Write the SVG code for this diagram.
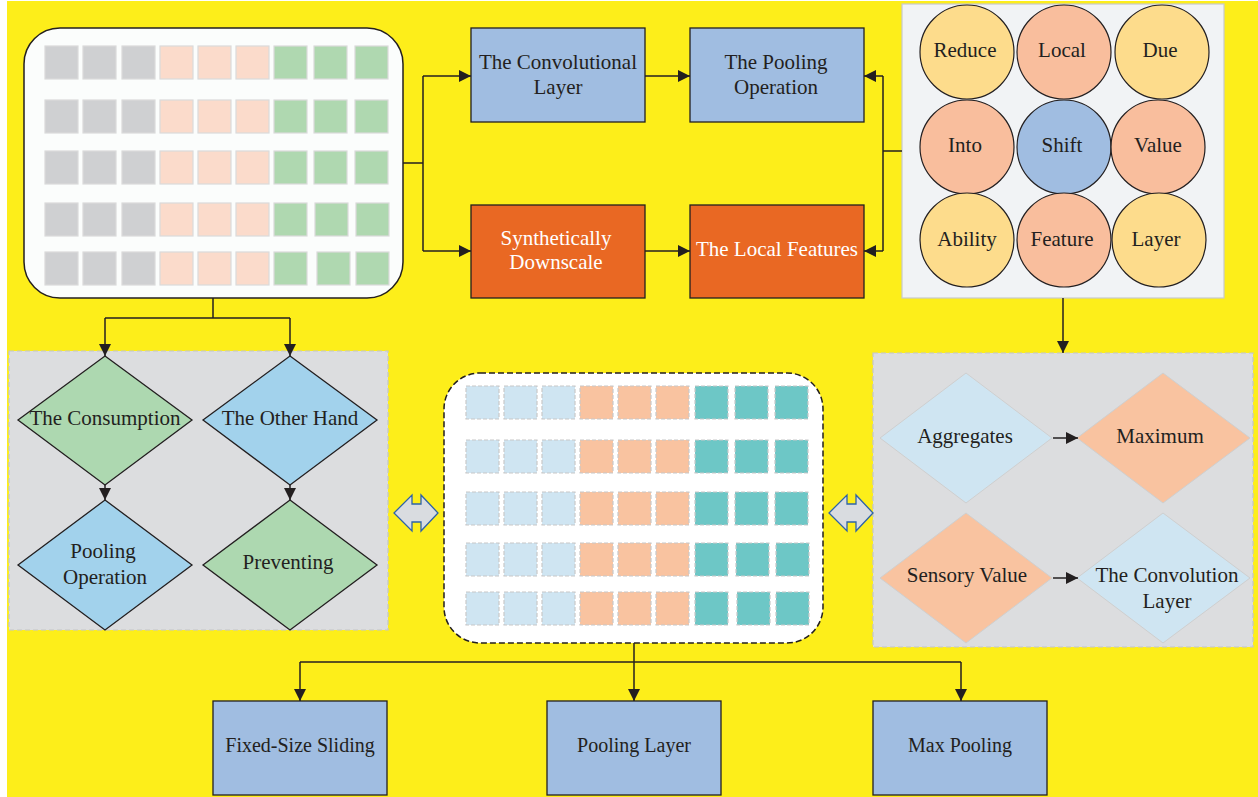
<svg xmlns="http://www.w3.org/2000/svg" width="1258" height="797" viewBox="0 0 1258 797">
<defs>
<style>
.t{font-family:"Liberation Serif","Times New Roman",serif;font-size:21px;fill:#231F20;text-anchor:middle}
.tw{fill:#FFFFFF}
.tb{font-size:20px}
.box{stroke:#231F20;stroke-width:1.3}
.blue{fill:#A0BDE1}
.orng{fill:#E96823}
.c{stroke:#231F20;stroke-width:1.2}
.cy{fill:#FDDC8C}.cs{fill:#F9BE9D}.cb{fill:#A0BDE1}
.g{fill:#CFD0D2;stroke:#DADADA;stroke-width:1.2}
.p{fill:#FBDBCB;stroke:#DADADA;stroke-width:1.2}
.gr{fill:#AFD8B0;stroke:#DADADA;stroke-width:1.2}
.lb{fill:#CFE5F2;stroke:#C8C8C8;stroke-width:1.2;stroke-dasharray:4 2}
.sa{fill:#F9C3A0;stroke:#C8C8C8;stroke-width:1.2;stroke-dasharray:4 2}
.te{fill:#6DC7C6;stroke:#C8C8C8;stroke-width:1.2;stroke-dasharray:4 2}
.panel{fill:#DCDDDF;stroke:#C4C6C8;stroke-width:1.2;stroke-dasharray:5 3}
.dg{fill:#ADD8B0;stroke:#231F20;stroke-width:1.3}
.db{fill:#A2D2EC;stroke:#231F20;stroke-width:1.3}
.dlb{fill:#CFE5F2;stroke:#CFCFCF;stroke-width:1}
.dsa{fill:#F9C3A0;stroke:#CFCFCF;stroke-width:1}
.dbl{fill:#D9DCE0;stroke:#2E63A8;stroke-width:1.3}
.ln{fill:none;stroke:#231F20;stroke-width:1.5}
.ar{fill:none;stroke:#231F20;stroke-width:1.5;marker-end:url(#ah)}
</style>
<marker id="ah" markerUnits="userSpaceOnUse" markerWidth="12" markerHeight="12" refX="12" refY="6" orient="auto">
<path d="M0,0 L12,6 L0,12 z" fill="#231F20"/>
</marker>
</defs>
<rect x="0" y="0" width="1258" height="797" fill="#FFFFFF"/>
<rect x="7" y="1" width="1251" height="796" fill="#FDEE1A"/>

<g id="grid-top">
<rect x="24" y="28" width="379" height="270" rx="36" fill="#FBFDFC" stroke="#231F20" stroke-width="1.5"/>
<g>
<rect class="g" x="45" y="46" width="33" height="33"/><rect class="g" x="83" y="46" width="33" height="33"/><rect class="g" x="122" y="46" width="33" height="33"/>
<rect class="p" x="160" y="46" width="33" height="33"/><rect class="p" x="198" y="46" width="33" height="33"/><rect class="p" x="236" y="46" width="33" height="33"/>
<rect class="gr" x="274" y="46" width="33" height="33"/><rect class="gr" x="314" y="46" width="33" height="33"/><rect class="gr" x="355" y="46" width="33" height="33"/>
<rect class="g" x="45" y="100" width="33" height="33"/><rect class="g" x="83" y="100" width="33" height="33"/><rect class="g" x="122" y="100" width="33" height="33"/>
<rect class="p" x="160" y="100" width="33" height="33"/><rect class="p" x="198" y="100" width="33" height="33"/><rect class="p" x="236" y="100" width="33" height="33"/>
<rect class="gr" x="274" y="100" width="33" height="33"/><rect class="gr" x="314" y="100" width="33" height="33"/><rect class="gr" x="355" y="100" width="33" height="33"/>
<rect class="g" x="45" y="151" width="33" height="33"/><rect class="g" x="83" y="151" width="33" height="33"/><rect class="g" x="122" y="151" width="33" height="33"/>
<rect class="p" x="160" y="151" width="33" height="33"/><rect class="p" x="198" y="151" width="33" height="33"/><rect class="p" x="236" y="151" width="33" height="33"/>
<rect class="gr" x="274" y="151" width="33" height="33"/><rect class="gr" x="314" y="151" width="33" height="33"/><rect class="gr" x="355" y="151" width="33" height="33"/>
<rect class="g" x="45" y="203" width="33" height="33"/><rect class="g" x="83" y="203" width="33" height="33"/><rect class="g" x="122" y="203" width="33" height="33"/>
<rect class="p" x="160" y="203" width="33" height="33"/><rect class="p" x="198" y="203" width="33" height="33"/><rect class="p" x="236" y="203" width="33" height="33"/>
<rect class="gr" x="274" y="203" width="33" height="33"/><rect class="gr" x="315" y="203" width="33" height="33"/><rect class="gr" x="356" y="203" width="33" height="33"/>
<rect class="g" x="45" y="252" width="33" height="33"/><rect class="g" x="83" y="252" width="33" height="33"/><rect class="g" x="122" y="252" width="33" height="33"/>
<rect class="p" x="160" y="252" width="33" height="33"/><rect class="p" x="198" y="252" width="33" height="33"/><rect class="p" x="236" y="252" width="33" height="33"/>
<rect class="gr" x="274" y="252" width="33" height="33"/><rect class="gr" x="317" y="252" width="33" height="33"/><rect class="gr" x="356" y="252" width="33" height="33"/>
</g>
</g>

<g id="conv-layer">
<rect class="box blue" x="471" y="28" width="174" height="94"/>
<text class="t" x="558" y="69">The Convolutional</text>
<text class="t" x="558" y="94">Layer</text>
</g>
<g id="pooling-op">
<rect class="box blue" x="690" y="28" width="174" height="94"/>
<text class="t" x="776" y="69">The Pooling</text>
<text class="t" x="776" y="94">Operation</text>
</g>
<g id="synth">
<rect class="box orng" x="471" y="205" width="174" height="93"/>
<text class="t tw" x="556" y="245">Synthetically</text>
<text class="t tw" x="556" y="269">Downscale</text>
</g>
<g id="local-features">
<rect class="box orng" x="690" y="205" width="174" height="93"/>
<text class="t tw" x="777" y="256">The Local Features</text>
</g>

<g id="circles">
<rect x="902" y="4" width="322" height="294" fill="#F1F3F5" stroke="#C8CACC" stroke-width="1.2"/>
<circle class="c cy" cx="967" cy="52" r="47"/><text class="t" x="965" y="57">Reduce</text>
<circle class="c cs" cx="1064" cy="52" r="47"/><text class="t" x="1062" y="57">Local</text>
<circle class="c cy" cx="1162" cy="52" r="47"/><text class="t" x="1160" y="57">Due</text>
<circle class="c cs" cx="967" cy="147" r="47"/><text class="t" x="965" y="152">Into</text>
<circle class="c cb" cx="1064" cy="147" r="47"/><text class="t" x="1062" y="152">Shift</text>
<circle class="c cs" cx="1158" cy="147" r="47"/><text class="t" x="1158" y="152">Value</text>
<circle class="c cy" cx="967" cy="240" r="47"/><text class="t" x="967" y="246">Ability</text>
<circle class="c cs" cx="1064" cy="240" r="47"/><text class="t" x="1062" y="246">Feature</text>
<circle class="c cy" cx="1159" cy="240" r="47"/><text class="t" x="1156" y="246">Layer</text>
</g>

<g id="left-panel">
<rect class="panel" x="9" y="351" width="379" height="279"/>
<polygon class="dg" points="105,356 192,420 105,485 18,420"/>
<text class="t" x="105" y="425">The Consumption</text>
<polygon class="db" points="290,356 377,420 290,485 203,420"/>
<text class="t" x="290" y="425">The Other Hand</text>
<polygon class="db" points="105,500 192,565 105,630 18,565"/>
<text class="t" x="103" y="558">Pooling</text>
<text class="t" x="105" y="584">Operation</text>
<polygon class="dg" points="290,500 377,565 290,630 203,565"/>
<text class="t" x="288" y="569">Preventing</text>
</g>

<g id="grid-center">
<rect x="444" y="373" width="379" height="270" rx="36" fill="#FFFFFF" stroke="#231F20" stroke-width="1.5" stroke-dasharray="6 3"/>
<rect class="lb" x="466" y="386" width="33" height="33"/><rect class="lb" x="504" y="386" width="33" height="33"/><rect class="lb" x="542" y="386" width="33" height="33"/>
<rect class="sa" x="580" y="386" width="33" height="33"/><rect class="sa" x="618" y="386" width="33" height="33"/><rect class="sa" x="656" y="386" width="33" height="33"/>
<rect class="te" x="695" y="386" width="33" height="33"/><rect class="te" x="735" y="386" width="33" height="33"/><rect class="te" x="775" y="386" width="33" height="33"/>
<rect class="lb" x="466" y="440" width="33" height="33"/><rect class="lb" x="504" y="440" width="33" height="33"/><rect class="lb" x="542" y="440" width="33" height="33"/>
<rect class="sa" x="580" y="440" width="33" height="33"/><rect class="sa" x="618" y="440" width="33" height="33"/><rect class="sa" x="656" y="440" width="33" height="33"/>
<rect class="te" x="695" y="440" width="33" height="33"/><rect class="te" x="735" y="440" width="33" height="33"/><rect class="te" x="775" y="440" width="33" height="33"/>
<rect class="lb" x="466" y="492" width="33" height="33"/><rect class="lb" x="504" y="492" width="33" height="33"/><rect class="lb" x="542" y="492" width="33" height="33"/>
<rect class="sa" x="580" y="492" width="33" height="33"/><rect class="sa" x="618" y="492" width="33" height="33"/><rect class="sa" x="656" y="492" width="33" height="33"/>
<rect class="te" x="695" y="492" width="33" height="33"/><rect class="te" x="735" y="492" width="33" height="33"/><rect class="te" x="775" y="492" width="33" height="33"/>
<rect class="lb" x="466" y="543" width="33" height="33"/><rect class="lb" x="504" y="543" width="33" height="33"/><rect class="lb" x="542" y="543" width="33" height="33"/>
<rect class="sa" x="580" y="543" width="33" height="33"/><rect class="sa" x="618" y="543" width="33" height="33"/><rect class="sa" x="656" y="543" width="33" height="33"/>
<rect class="te" x="695" y="543" width="33" height="33"/><rect class="te" x="736" y="543" width="33" height="33"/><rect class="te" x="776" y="543" width="33" height="33"/>
<rect class="lb" x="466" y="592" width="33" height="33"/><rect class="lb" x="504" y="592" width="33" height="33"/><rect class="lb" x="542" y="592" width="33" height="33"/>
<rect class="sa" x="580" y="592" width="33" height="33"/><rect class="sa" x="618" y="592" width="33" height="33"/><rect class="sa" x="656" y="592" width="33" height="33"/>
<rect class="te" x="695" y="592" width="33" height="33"/><rect class="te" x="737" y="592" width="33" height="33"/><rect class="te" x="776" y="592" width="33" height="33"/>
</g>

<g id="right-panel">
<rect class="panel" x="873" y="353" width="380" height="294"/>
<polygon class="dlb" points="966,373 1052,438 966,503 880,438"/>
<text class="t" x="965" y="443">Aggregates</text>
<polygon class="dsa" points="1163,373 1250,438 1163,503 1077,438"/>
<text class="t" x="1160" y="443">Maximum</text>
<polygon class="dsa" points="966,513 1052,578 966,643 880,578"/>
<text class="t" x="967" y="582">Sensory Value</text>
<polygon class="dlb" points="1163,513 1250,578 1163,643 1077,578"/>
<text class="t" x="1167" y="582">The Convolution</text>
<text class="t" x="1167" y="608">Layer</text>
</g>

<g id="fixed-size">
<rect class="box blue" x="213" y="701" width="174" height="94"/>
<text class="t tb" x="300" y="752">Fixed-Size Sliding</text>
</g>
<g id="pooling-layer">
<rect class="box blue" x="547" y="701" width="174" height="94"/>
<text class="t tb" x="634" y="752">Pooling Layer</text>
</g>
<g id="max-pooling">
<rect class="box blue" x="873" y="701" width="174" height="94"/>
<text class="t tb" x="960" y="752">Max Pooling</text>
</g>

<g id="connectors">
<path class="ln" d="M403,163 H423 M423,76 V251"/>
<path class="ar" d="M423,76 H471"/>
<path class="ar" d="M423,251 H471"/>
<path class="ar" d="M645,76 H690"/>
<path class="ar" d="M645,251 H690"/>
<path class="ln" d="M902,151 H883 M883,76 V251"/>
<path class="ar" d="M883,76 H864"/>
<path class="ar" d="M883,251 H864"/>
<path class="ar" d="M1063,298 V353"/>
<path class="ln" d="M213,298 V318 M105,318 H290"/>
<path class="ar" d="M105,318 V356"/>
<path class="ar" d="M290,318 V356"/>
<path class="ar" d="M105,485 V500"/>
<path class="ar" d="M290,485 V500"/>
<path class="ar" d="M1053,438 H1078"/>
<path class="ar" d="M1053,578 H1078"/>
<path class="ln" d="M300,662 H961"/>
<path class="ar" d="M634,643 V701"/>
<path class="ar" d="M300,662 V701"/>
<path class="ar" d="M961,662 V701"/>
<polygon class="dbl" points="394,513 412,495 412,504 421,504 421,495 438,513 421,531 421,522 412,522 412,531"/>
<polygon class="dbl" points="829,513 847,495 847,504 856,504 856,495 873,513 856,531 856,522 847,522 847,531"/>
</g>
</svg>
